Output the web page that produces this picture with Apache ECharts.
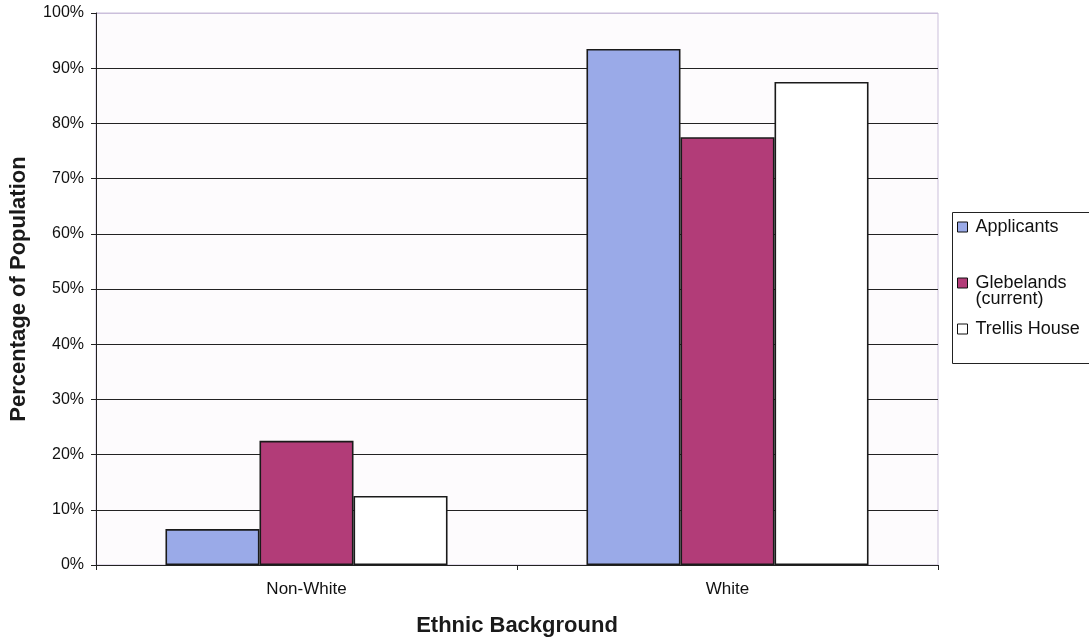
<!DOCTYPE html>
<html>
<head>
<meta charset="utf-8">
<title>Ethnic Background</title>
<script src="https://cdn.jsdelivr.net/npm/echarts@6/dist/echarts.min.js"></script>
<style>
  html, body { margin: 0; padding: 0; background: #ffffff; }
  #chart { width: 1089px; height: 641px; }
</style>
</head>
<body>
<div id="chart"></div>
<script>
// Ethnic background groups on the category axis
const categories = ['Non-White', 'White'];

// Percentage of each population in each group
const applicants = [6.5, 93.5];
const glebelands = [22.5, 77.5];
const trellisHouse = [12.5, 87.5];

// Series names as shown in the legend
const seriesNames = ['Applicants', 'Glebelands (current)', 'Trellis House'];

// Value axis tick values (percent)
const yTicks = [0, 10, 20, 30, 40, 50, 60, 70, 80, 90, 100];

const FONT = "'Liberation Sans', Arial, sans-serif";
const COLORS = ['#9aaae8', '#b23c78', '#ffffff'];

const chart = echarts.init(document.getElementById('chart'), null, { renderer: 'canvas' });

// Gridlines are dark; the one at the top edge of the plot is pale like the frame
const gridColors = yTicks.map((t, i) => (i === yTicks.length - 1 ? '#cbbfdb' : '#222222'));

function barSeries(name, data, color) {
  return {
    name: name,
    type: 'bar',
    data: data,
    barGap: '0%',
    barCategoryGap: '33%',
    itemStyle: { color: color, borderColor: '#1a1a1a', borderWidth: 1.6 },
    emphasis: { disabled: true }
  };
}

// One legend block per series so each entry sits at its own height.
// The two-line entry gets an empty leading line so its icon lines up with "Glebelands".
function legendAt(name, top, lineHeight) {
  return {
    data: [name],
    left: 957,
    top: top,
    orient: 'vertical',
    padding: 0,
    icon: 'rect',
    itemWidth: 10,
    itemHeight: 10,
    itemGap: 0,
    selectedMode: false,
    itemStyle: { borderColor: '#111', borderWidth: 1 },
    textStyle: { fontFamily: FONT, fontSize: 18, color: '#111', lineHeight: lineHeight, padding: [0, 0, 0, 3] },
    formatter: function (n) { return n === 'Glebelands (current)' ? '\nGlebelands\n(current)' : n; }
  };
}

const option = {
  backgroundColor: '#ffffff',
  animation: false,
  textStyle: { fontFamily: FONT },
  grid: {
    left: 96,
    right: 151,
    top: 13,
    bottom: 76,
    outerBoundsMode: 'none',
    containLabel: false,
    show: true,
    backgroundColor: '#fdfbfd',
    borderColor: '#cbbfdb',
    borderWidth: 1
  },
  graphic: [
    {
      type: 'rect',
      left: 952,
      top: 212,
      z: 0,
      shape: { width: 150, height: 151 },
      style: { fill: '#ffffff', stroke: '#222222', lineWidth: 1 }
    }
  ],
  legend: [
    legendAt(seriesNames[0], 218, 17),
    legendAt(seriesNames[1], 258, 16),
    legendAt(seriesNames[2], 320, 17)
  ],
  xAxis: {
    type: 'category',
    data: categories,
    name: 'Ethnic Background',
    nameLocation: 'middle',
    nameGap: 50,
    nameTextStyle: { fontFamily: FONT, fontSize: 22, fontWeight: 'bold', color: '#1a1a1a' },
    axisLine: { show: true, lineStyle: { color: '#222', width: 1 } },
    axisTick: { show: true, length: 5, lineStyle: { color: '#222' } },
    axisLabel: { fontFamily: FONT, fontSize: 17, color: '#111', margin: 16 },
    splitLine: { show: false }
  },
  yAxis: {
    type: 'value',
    min: 0,
    max: 100,
    interval: 10,
    name: 'Percentage of Population',
    nameLocation: 'middle',
    nameGap: 66,
    nameRotate: 90,
    nameTextStyle: { fontFamily: FONT, fontSize: 22, fontWeight: 'bold', color: '#1a1a1a' },
    axisLine: { show: true, lineStyle: { color: '#222', width: 1 } },
    axisTick: { show: true, length: 5, lineStyle: { color: '#222' } },
    axisLabel: { fontFamily: FONT, fontSize: 16, color: '#111', margin: 12, formatter: '{value}%' },
    splitLine: { show: true, lineStyle: { color: gridColors, width: 1 } }
  },
  series: [
    barSeries(seriesNames[0], applicants, COLORS[0]),
    barSeries(seriesNames[1], glebelands, COLORS[1]),
    barSeries(seriesNames[2], trellisHouse, COLORS[2])
  ]
};

chart.setOption(option);
</script>
</body>
</html>
